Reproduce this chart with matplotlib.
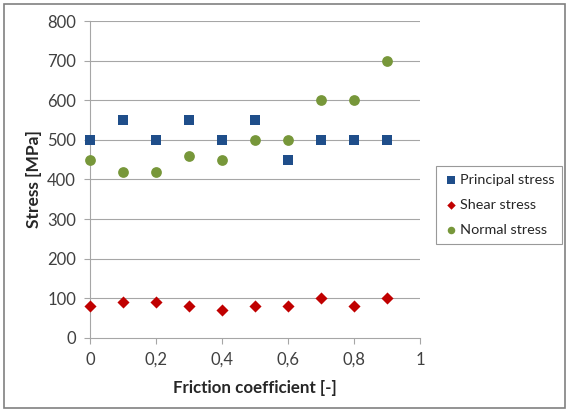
import matplotlib
matplotlib.use("Agg")
import matplotlib.pyplot as plt
from matplotlib.patches import Rectangle

plt.rcParams['font.family'] = ['Lato', 'DejaVu Sans']

friction = [0, 0.1, 0.2, 0.3, 0.4, 0.5, 0.6, 0.7, 0.8, 0.9]
principal = [500, 550, 500, 550, 500, 550, 450, 500, 500, 500]
shear = [80, 90, 90, 80, 70, 80, 80, 100, 80, 100]
normal = [450, 420, 420, 460, 450, 500, 500, 600, 600, 700]
xticks = [0, 0.2, 0.4, 0.6, 0.8, 1]
xticklabels = ['0', '0,2', '0,4', '0,6', '0,8', '1']
yticks = [0, 100, 200, 300, 400, 500, 600, 700, 800]

fig = plt.figure(figsize=(5.69, 4.12), dpi=100)
ax = fig.add_axes([0.158, 0.180, 0.580, 0.769])

grid_c = '#a6a6a6'
for y in yticks[1:]:
    ax.axhline(y, color=grid_c, lw=0.8, zorder=1)

ax.scatter(friction, principal, marker='s', s=55, color='#1f4e8a', label='Principal stress', zorder=3, linewidths=0, clip_on=False)
ax.scatter(friction, shear, marker='D', s=38, color='#c00000', label='Shear stress', zorder=3, linewidths=0, clip_on=False)
ax.scatter(friction, normal, marker='o', s=60, color='#77973a', label='Normal stress', zorder=3, linewidths=0, clip_on=False)

ax.set_xlim(0, 1)
ax.set_ylim(0, 800)
ax.set_xticks(xticks)
ax.set_xticklabels(xticklabels)
ax.set_yticks(yticks)
for s in ['top', 'right']:
    ax.spines[s].set_visible(False)
ax.spines['left'].set_color(grid_c)
ax.spines['bottom'].set_color(grid_c)
ax.tick_params(axis='both', colors=grid_c, labelcolor='#404040', labelsize=12, length=4, width=0.8)
ax.tick_params(axis='x', pad=6)
ax.tick_params(axis='y', pad=6)
ax.set_xlabel('Friction coefficient [-]', fontsize=12.2, fontweight='bold', color='#262626', labelpad=9)
ax.set_ylabel('Stress [MPa]', fontsize=12.5, fontweight='bold', color='#262626', labelpad=4)

leg = fig.legend(loc='upper left', bbox_to_anchor=(0.766, 0.598), frameon=True, fancybox=False,
                 edgecolor='#808080', fontsize=10.4, handletextpad=0.1, borderpad=0.55,
                 labelspacing=0.9, handlelength=1.0, markerscale=0.7, borderaxespad=0)
leg.get_frame().set_linewidth(0.8)
for t in leg.get_texts():
    t.set_color('#262626')

fig.patches.append(Rectangle((0.007, 0.010), 0.986, 0.980, transform=fig.transFigure,
                             fill=False, edgecolor='#808080', lw=1.2))

fig.savefig('out.png', dpi=100)
